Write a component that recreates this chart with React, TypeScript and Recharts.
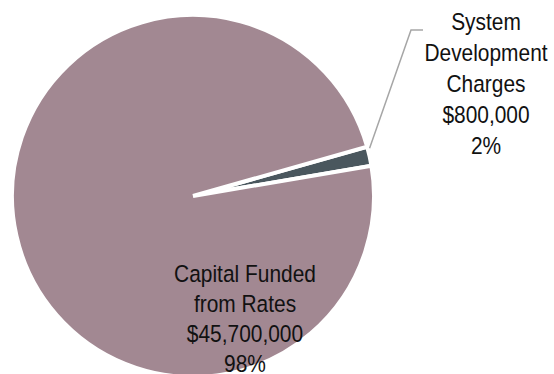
import { PieChart, Pie, Cell } from 'recharts'

const names = ['System Development Charges', 'Capital Funded from Rates']
const amounts = [800000, 45700000]
const amountLabels = ['$800,000', '$45,700,000']
const percentLabels = ['2%', '98%']
const colors = ['#4A575E', '#A28892']

const data = names.map((name, i) => ({ name, value: amounts[i] }))

const FONT = "'Liberation Sans', Arial, sans-serif"
const RAD = Math.PI / 180

// narrow-looking label block (the source uses a condensed face)
function Block({ x, y, lines, gap }: { x: number; y: number; lines: string[]; gap: number }) {
  return (
    <g transform={`translate(${x},${y}) scale(0.89,1)`}>
      <text x={0} y={0} textAnchor="middle" fontFamily={FONT} fontSize={23.5} fill="#111">
        {lines.map((l, i) => (
          <tspan key={i} x={0} dy={i === 0 ? 0 : gap}>{l}</tspan>
        ))}
      </text>
    </g>
  )
}

function SliceLabel(props: any) {
  const { cx, cy, midAngle, outerRadius, index } = props
  if (index === 0) {
    const sx = cx + outerRadius * Math.cos(-midAngle * RAD)
    const sy = cy + outerRadius * Math.sin(-midAngle * RAD) - 8
    const ex = cx + 218
    const ey = cy - 166
    return (
      <g>
        <polyline
          points={`${sx},${sy} ${ex},${ey} ${ex + 12},${ey}`}
          fill="none"
          stroke="#A6A6A6"
          strokeWidth={1.5}
        />
        <Block
          x={cx + 293}
          y={cy - 166}
          gap={31}
          lines={['System', 'Development', 'Charges', amountLabels[0], percentLabels[0]]}
        />
      </g>
    )
  }
  return (
    <Block
      x={cx + 52}
      y={cy + 86}
      gap={30}
      lines={['Capital Funded', 'from Rates', amountLabels[1], percentLabels[1]]}
    />
  )
}

export default function App() {
  return (
    <div style={{ position: 'absolute', left: 0, top: 0, width: 554, height: 374, background: '#fff' }}>
      <PieChart width={554} height={374} margin={{ top: 0, right: 0, bottom: 0, left: 0 }}>
        <Pie
          data={data}
          dataKey="value"
          nameKey="name"
          cx={193}
          cy={196}
          outerRadius={181}
          startAngle={15.8}
          endAngle={15.8 - 360}
          stroke="#FFFFFF"
          strokeWidth={4}
          label={SliceLabel}
          labelLine={false}
          isAnimationActive={false}
        >
          {data.map((d, i) => (
            <Cell key={d.name} fill={colors[i]} />
          ))}
        </Pie>
      </PieChart>
    </div>
  )
}
